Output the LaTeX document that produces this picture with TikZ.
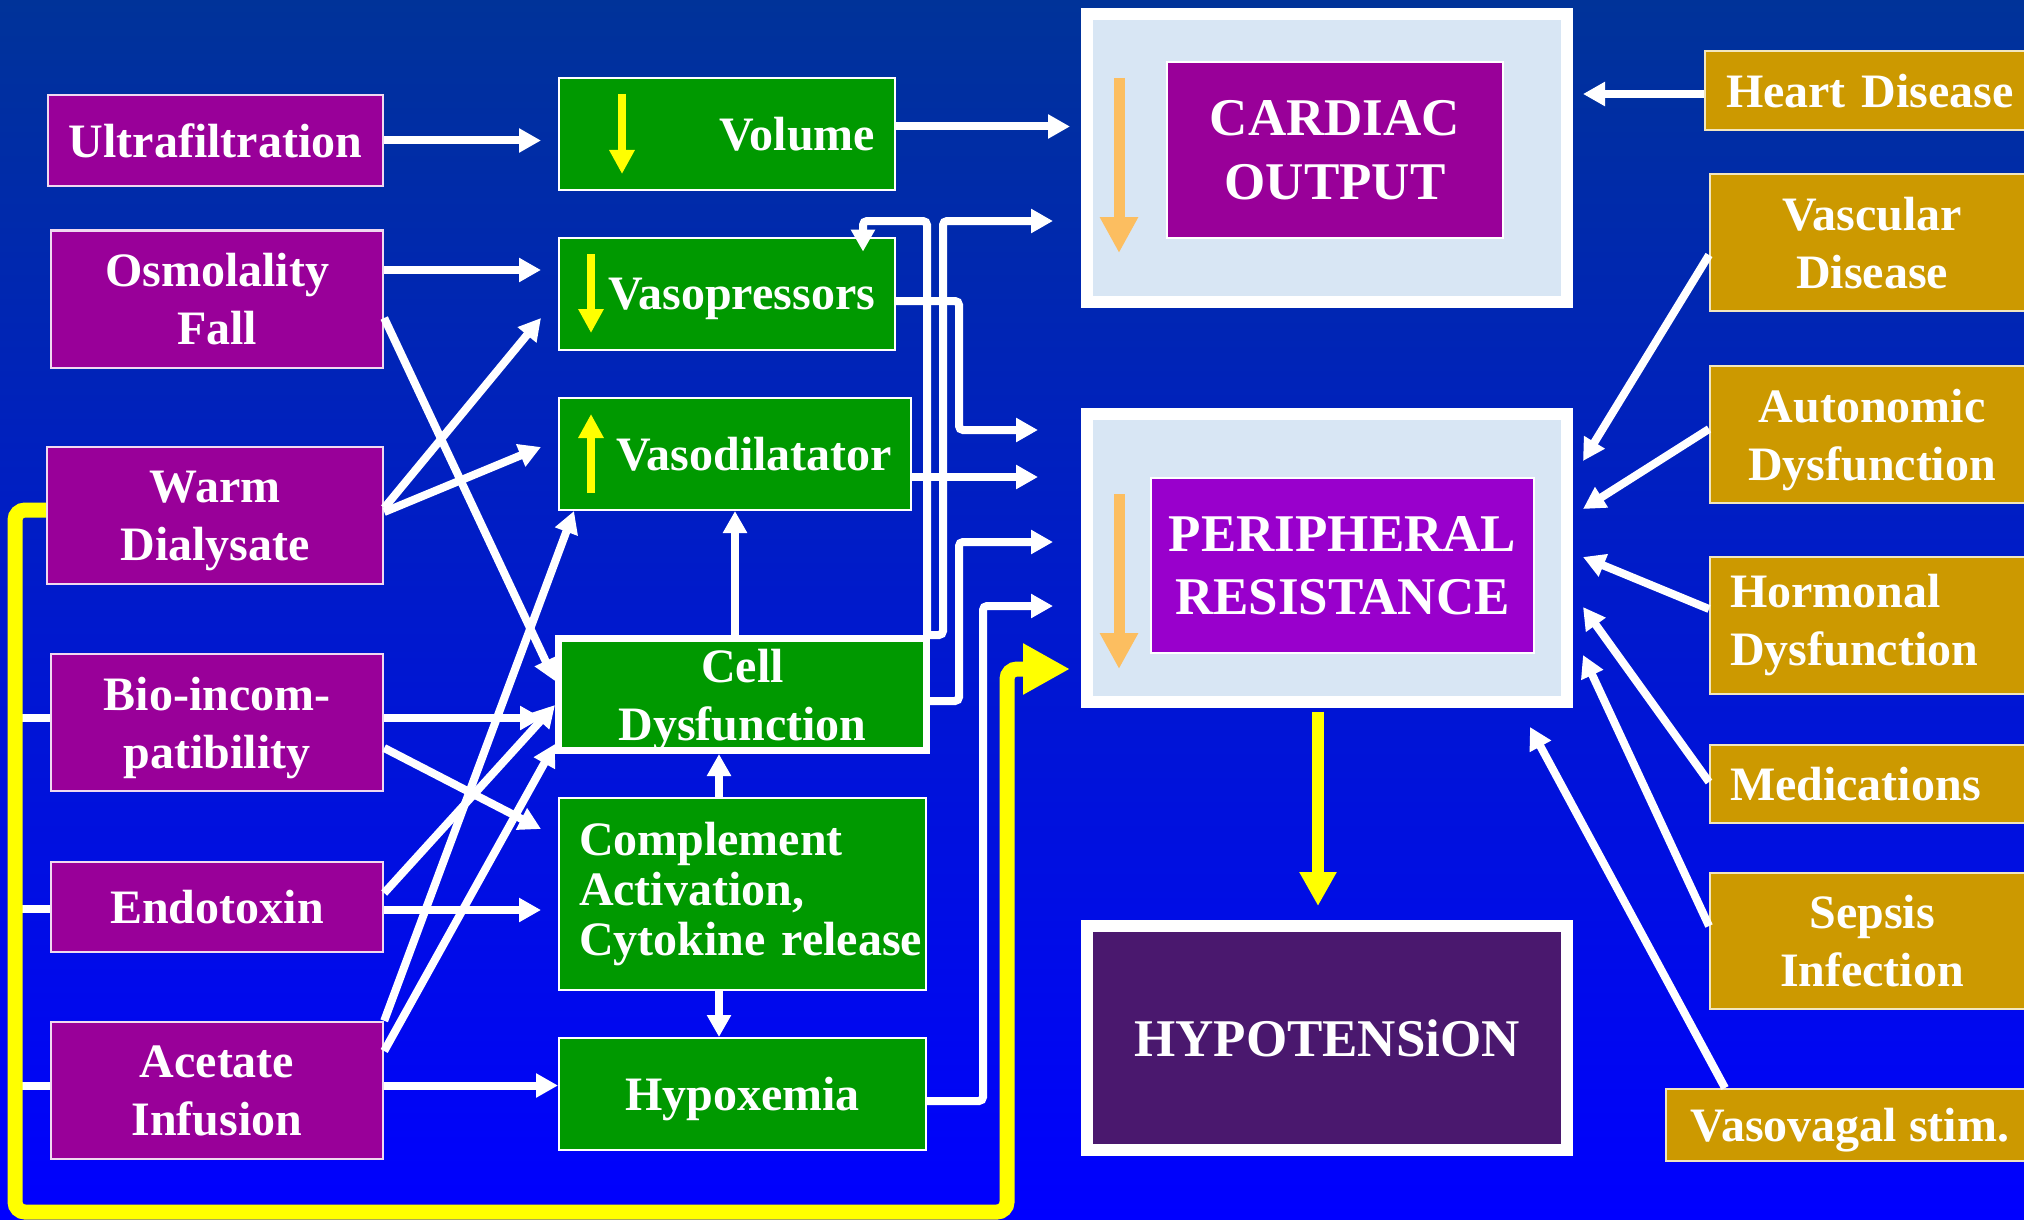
\documentclass[tikz,border=0pt]{standalone}
\usepackage{fontspec}
\setmainfont{Liberation Serif}
\usetikzlibrary{arrows.meta,calc}
\definecolor{cpurp}{RGB}{153,0,153}
\definecolor{cgreen}{RGB}{0,153,0}
\definecolor{cgold}{RGB}{204,153,0}
\definecolor{cviolet}{RGB}{153,0,204}
\definecolor{clight}{RGB}{216,230,244}
\definecolor{cdark}{RGB}{74,24,110}
\definecolor{corange}{RGB}{252,190,96}
\definecolor{ctop}{RGB}{0,51,153}
\definecolor{cbot}{RGB}{0,0,255}
\definecolor{cyel}{RGB}{255,255,0}
\newcommand\bx[7]{%
 \pgfmathsetmacro\bxcx{(#2+#4)/2}%
 \pgfmathsetmacro\bxcy{(#3+#5)/2}%
 \pgfmathsetmacro\bxw{(#4-#2)/2}%
 \pgfmathsetmacro\bxh{(#5-#3)/2}%
 \node[#6, minimum width=\bxw pt, minimum height=\bxh pt] (#1) at (\bxcx,\bxcy) {#7};}
\tikzset{
  every node/.style={text=white, inner sep=0pt, text depth=0pt, font=\bfseries\fontsize{24}{29}\selectfont},
  natdepth/.style={text depth={}},
  titlefont/.style={font=\bfseries\fontsize{26.5}{32}\selectfont},
  pbox/.style={rectangle, fill=cpurp, draw=white!85!cpurp, line width=1.2pt, align=center},
  gbox/.style={rectangle, fill=cgreen, draw=white, line width=1pt, align=center},
  obox/.style={rectangle, fill=cgold, draw=white!75!cgold, line width=1pt, align=center},
  bigframe/.style={rectangle, draw=white, line width=6pt},
  warr/.style={draw=white, line width=4pt, rounded corners=2pt, -{Triangle[length=11pt,width=11.5pt]}},
  wline/.style={draw=white, line width=4pt},
  yarr/.style={draw=cyel, line width=4pt, -{Triangle[length=12pt,width=12pt]}},
  oarr/.style={draw=corange, line width=5.5pt, -{Triangle[length=18pt,width=18pt]}},
}
\begin{document}
\begin{tikzpicture}[x=0.5pt,y=-0.5pt]
\useasboundingbox (0,0) rectangle (2024,1220);
\clip (0,0) rectangle (2024,1220);
\shade[top color=ctop,bottom color=cbot] (0,0) rectangle (2024,1220);

% left column
\bx{ultra}{48}{95}{383}{186}{pbox}{Ultrafiltration}
\bx{osm}{51}{230.5}{383}{368}{pbox}{Osmolality\\Fall}
\bx{warm}{47}{447}{383}{584}{pbox}{Warm\\Dialysate}
\bx{bio}{51}{654}{383}{791}{pbox}{Bio-incom-\\patibility}
\bx{endo}{51}{862}{383}{952}{pbox}{Endotoxin}
\bx{acet}{51}{1022}{383}{1159}{pbox}{Acetate\\Infusion}

% middle column
\bx{vol}{559}{78}{895}{190}{gbox, text width=148pt, align=right}{Volume}
\bx{vpr}{559}{237.6}{895}{350}{gbox, text width=148pt, align=right}{Vasopressors}
\bx{vdl}{559}{398}{911}{510}{gbox, text width=157pt, align=right}{Vasodilatator}
\bx{cell}{558.5}{638.5}{926.5}{750.5}{gbox, line width=3.5pt}{Cell\\Dysfunction}
\bx{comp}{559}{798}{926}{990}{gbox, natdepth, text width=163.5pt, align=left, font=\bfseries\fontsize{24}{25}\selectfont}{\mbox{Complement}\\\mbox{Activation,}\\\mbox{Cytokine release}}
\bx{hypx}{559}{1038}{926}{1150}{gbox}{Hypoxemia}

% central frames
\bx{co}{1087}{14}{1567}{302}{bigframe, fill=clight}{}
\bx{coi}{1167}{62}{1503}{238}{rectangle, fill=cpurp, draw=white, line width=1pt, align=center, titlefont}{CARDIAC\\OUTPUT}
\bx{pr}{1087}{414}{1567}{701.5}{bigframe, fill=clight}{}
\bx{pri}{1151}{478}{1534}{653}{rectangle, fill=cviolet, draw=white, line width=1pt, align=center, titlefont}{PERIPHERAL\\RESISTANCE}
\bx{hyp}{1087}{926}{1567}{1149.5}{bigframe, fill=cdark, titlefont}{HYPOTENSiON}

% right column
\bx{heart}{1705}{51}{2034}{130}{obox, text width=143.5pt, align=left}{\mbox{Heart Disease}}
\bx{vasc}{1710}{174}{2034}{311}{obox}{Vascular\\Disease}
\bx{auto}{1710}{366}{2034}{503}{obox}{Autonomic\\Dysfunction}
\bx{horm}{1710}{557}{2034}{694}{obox, natdepth, text width=142pt, align=left}{Hormonal\\Dysfunction}
\bx{med}{1710}{745}{2034}{823}{obox, text width=142pt, align=left}{Medications}
\bx{seps}{1710}{873}{2034}{1009}{obox}{Sepsis\\Infection}
\bx{vvag}{1666}{1089}{2034}{1161}{obox}{Vasovagal stim.}

% stubs from the yellow bus
\draw[wline] (15,717.5) -- (bio.west |- 0,717.5);
\draw[wline] (15,909) -- (endo.west |- 0,909);
\draw[wline] (15,1085.6) -- (acet.west |- 0,1085.6);
% yellow bus
\draw[draw=cyel, line width=7.5pt, rounded corners=5pt, -{Triangle[length=23.5pt,width=24pt]}]
  (warm.west |- 0,510) -- (15,510) -- (15,1212) -- (1007,1212) -- (1007,669) -- ($(pr.west |- 0,669)+(-11,0)$);

% left -> middle
\draw[warr] (ultra.east) -- ($(vol.west |- ultra.east)+(-17,0)$);
\draw[warr] (osm.east |- 0,270) -- ($(vpr.west |- 0,270)+(-17,0)$);
\draw[warr] (osm.east |- 0,318) -- (cell.west |- 0,681);
\draw[warr] (warm.east |- 0,508) -- ($(vpr.west |- 0,318)+(-17,0)$);
\draw[warr] (warm.east |- 0,512) -- ($(vdl.west |- 0,447)+(-17,0)$);
\draw[warr] (bio.east |- 0,718) -- ($(cell.west |- 0,718)+(-13,0)$);
\draw[warr] (bio.east |- 0,748) -- ($(comp.west |- 0,829)+(-17,0)$);
\draw[warr] (endo.east |- 0,910) -- ($(comp.west |- 0,910)+(-17,0)$);
\draw[warr] (endo.east |- 0,893) -- (cell.west |- 0,705);
\draw[warr] (acet.east |- 0,1051) -- (cell.west |- 0,744);
\draw[warr] (acet.north east) -- (574,0 |- vdl.south);
\draw[warr] (acet.east |- 0,1085.5) -- (hypx.west |- 0,1085.5);

% middle internal
\draw[warr] (719,0 |- comp.north) -- (719,0 |- cell.south);
\draw[warr] (719,0 |- comp.south) -- (719,0 |- hypx.north);
\draw[warr] (735,0 |- cell.north) -- (735,0 |- vdl.south);
\draw[warr] (927,0 |- cell.north) -- (927,221) -- (863,221) -- ($(863,0 |- vpr.north)+(0,15)$);

% middle -> frames
\draw[warr] (cell.north east) -- (943,0 |- cell.north east) -- (943,221) -- ($(co.west |- 0,221)+(-28,0)$);
\draw[warr] (vol.east |- 0,126.5) -- ($(co.west |- 0,126.5)+(-11,0)$);
\draw[warr] (vpr.east |- 0,301) -- (959,301) -- (959,430) -- ($(pr.west |- 0,430)+(-43,0)$);
\draw[warr] (vdl.east |- 0,477) -- ($(pr.west |- 0,477)+(-43,0)$);
\draw[warr] (cell.east |- 0,701) -- (959,701) -- (959,542) -- ($(pr.west |- 0,542)+(-28,0)$);
\draw[warr] (hypx.east |- 0,1101) -- (983,1101) -- (983,606) -- ($(pr.west |- 0,606)+(-28,0)$);

% right -> frames
\draw[warr] (heart.west |- 0,94) -- ($(co.east |- 0,94)+(10,0)$);
\draw[warr] (vasc.west |- 0,255) -- ($(pr.east |- 0,461)+(10,0)$);
\draw[warr] (auto.west |- 0,429) -- ($(pr.east |- 0,509)+(10,0)$);
\draw[warr] (horm.west |- 0,609) -- ($(pr.east |- 0,557)+(10,0)$);
\draw[warr] (med.west |- 0,782) -- ($(pr.east |- 0,607)+(10,0)$);
\draw[warr] (seps.west |- 0,926) -- ($(pr.east |- 0,655)+(10,0)$);
\draw[warr] (1725,0 |- vvag.north) -- ($(pr.south east)+(-43,19.5)$);

% in-box indicator arrows
\draw[yarr] (622,94) -- (622,174);
\draw[yarr] (591,254) -- (591,333);
\draw[yarr] (591,493) -- (591,414);
\draw[oarr] (1119,78) -- (1119,253);
\draw[oarr] (1119,494) -- (1119,669);

% resistance -> hypotension
\draw[draw=cyel, line width=6pt, -{Triangle[length=17pt,width=17.5pt]}]
  ($(1318,0 |- pr.south)+(0,4)$) -- ($(1318,0 |- hyp.north)+(0,-14)$);
\end{tikzpicture}
\end{document}
